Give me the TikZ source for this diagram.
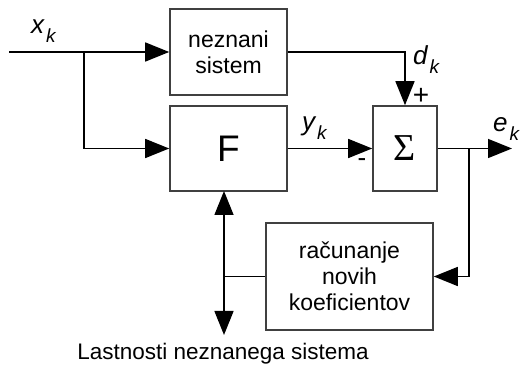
\documentclass[tikz,border=0pt]{standalone}
\usepackage{fontspec}
\setmainfont{Liberation Sans}
\newfontfamily\serifgr{Liberation Serif}
\usetikzlibrary{arrows.meta}

\tikzset{
  blok/.style={draw=black!75, line width=1.6pt, inner sep=0pt, align=center,
    font=\fontsize{23}{26}\selectfont},
  pov/.style={line width=1.5pt, -{Triangle[length=24pt,width=19pt]}},
  crta/.style={line width=1.5pt},
  oznaka/.style={inner sep=0pt, anchor=base west, font=\fontsize{26}{28}\selectfont\itshape},
}
\newcommand{\sgn}[2]{#1\kern2pt\raisebox{-0.33em}{\fontsize{19}{19}\selectfont #2}}

\begin{document}
\begin{tikzpicture}[x=1pt,y=1pt]
\useasboundingbox (0,0) rectangle (520,367);

\begin{scope}[every node/.style={blok}]
\node[minimum width=117pt, minimum height=86pt] (nez) at (228.5,315) {neznani\\sistem};
\node[minimum width=117pt, minimum height=85pt, font=\fontsize{37}{40}\selectfont] (F) at (228.5,218.5) {F};
\node[minimum width=64pt, minimum height=85pt, font=\fontsize{38}{40}\selectfont\serifgr] (sum) at (405,218.5) {Σ};
\node[minimum width=167pt, minimum height=107pt] (rac) at (349.5,90.5) {računanje\\novih\\koeficientov};
\end{scope}

\coordinate (vhod) at (9,315);
\coordinate (raz) at (84,315);
\coordinate (izhod) at (512,218.5);
\coordinate (raz2) at (469,218.5);
\coordinate (Fdol) at (224,176);
\coordinate (stik) at (224,90.5);
\coordinate (lastn) at (224,32);

\draw[pov] (vhod) -- (nez.west);
\draw[pov] (raz) |- (F.west);
\draw[pov] (nez.east) -| (sum.north);
\draw[pov] (F.east) -- (sum.west);
\draw[pov] (sum.east) -- (izhod);
\draw[pov] (raz2) |- (rac.east);
\draw[pov, {Triangle[length=24pt,width=19pt]}-{Triangle[length=24pt,width=19pt]}] (Fdol) -- (lastn);
\draw[crta] (rac.west) -- (stik);

\node[oznaka] (xk) at (31,333) {\sgn{x}{k}};
\node[oznaka] (dk) at (413,302) {\sgn{d}{k}};
\node[oznaka] (yk) at (302,236) {\sgn{y}{k}};
\node[oznaka] (ek) at (493,235) {\sgn{e}{k}};
\node[inner sep=0pt, font=\fontsize{28}{30}\selectfont] (plus) at (421,271) {+};
\node[inner sep=0pt, font=\fontsize{26}{28}\selectfont] (minus) at (362,204) {-};
\node[inner sep=0pt, font=\fontsize{22.5}{25}\selectfont] (opis) at (223,13) {Lastnosti neznanega sistema};
\end{tikzpicture}
\end{document}
